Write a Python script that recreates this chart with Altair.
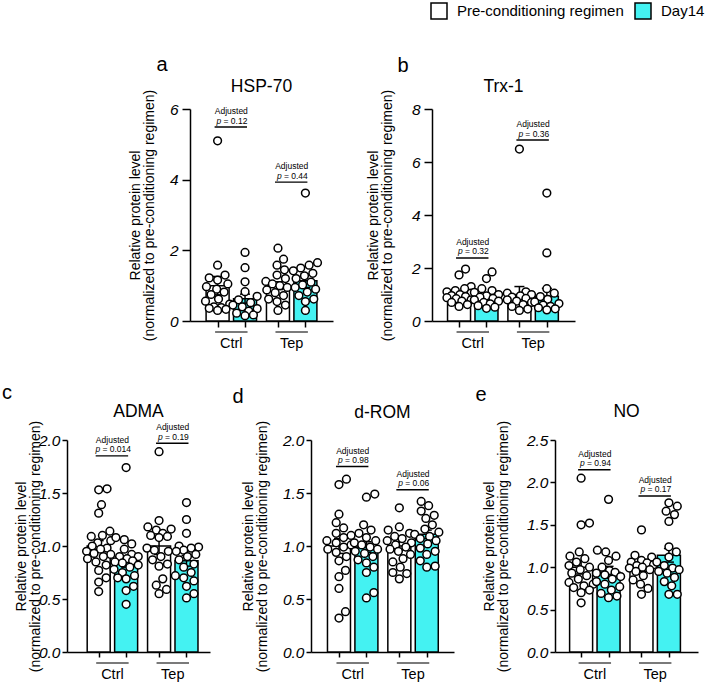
import math
import altair as alt
import pandas as pd

CONDITIONS = ["Pre-conditioning regimen", "Day14"]
GROUPS = ["Ctrl", "Tep"]
CYAN = "#44F2F2"
FONT = "Liberation Sans"

# ---------------- data ----------------
# order of the four series: Ctrl pre, Ctrl Day14, Tep pre, Tep Day14
hsp70_ctrl_pre = [5.10, 1.58, 1.30, 1.22, 1.16, 1.05, 0.97, 0.90, 0.82, 0.75, 0.62, 0.56, 0.48, 0.40, 0.38, 0.36, 0.33, 0.30]
hsp70_ctrl_d14 = [1.94, 1.51, 1.11, 0.83, 0.70, 0.60, 0.52, 0.45, 0.40, 0.35, 0.28, 0.22, 0.17, 0.15]
hsp70_tep_pre = [2.06, 1.75, 1.58, 1.45, 1.30, 1.20, 1.12, 1.05, 1.00, 0.95, 0.88, 0.80, 0.72, 0.62, 0.55, 0.45, 0.30]
hsp70_tep_d14 = [3.62, 1.65, 1.58, 1.50, 1.42, 1.35, 1.28, 1.20, 1.10, 1.02, 0.95, 0.90, 0.82, 0.72, 0.62, 0.55, 0.30]
hsp70_means = [1.00, 0.63, 1.00, 1.14]
hsp70_sems = [0.26, 0.13, 0.11, 0.19]
hsp70_p = ["0.12", "0.44"]
hsp70_bracket = [5.49, 3.93]

trx1_ctrl_pre = [1.96, 1.74, 1.30, 1.22, 1.15, 1.10, 1.05, 1.00, 0.96, 0.92, 0.88, 0.84, 0.80, 0.75, 0.70, 0.62, 0.55]
trx1_ctrl_d14 = [1.85, 1.60, 1.22, 1.15, 1.08, 1.00, 0.95, 0.90, 0.85, 0.80, 0.75, 0.70, 0.65, 0.58, 0.52, 0.48]
trx1_tep_pre = [6.49, 1.10, 1.05, 1.00, 0.95, 0.90, 0.85, 0.80, 0.75, 0.70, 0.62, 0.55, 0.45, 0.40]
trx1_tep_d14 = [4.83, 2.57, 1.22, 1.05, 0.92, 0.82, 0.72, 0.66, 0.60, 0.55, 0.50, 0.46, 0.42]
trx1_means = [1.00, 0.87, 1.00, 0.93]
trx1_sems = [0.08, 0.09, 0.30, 0.30]
trx1_p = ["0.32", "0.36"]
trx1_bracket = [2.38, 6.83]

adma_ctrl_pre = [1.54, 1.53, 1.39, 1.31, 1.14, 1.10, 1.09, 1.05, 1.03, 1.00, 0.98, 0.97, 0.95, 0.93, 0.92, 0.90, 0.88, 0.85, 0.82, 0.77, 0.70, 0.66, 0.57]
adma_ctrl_d14 = [1.74, 1.08, 1.06, 1.02, 0.97, 0.92, 0.90, 0.90, 0.88, 0.86, 0.85, 0.84, 0.82, 0.80, 0.78, 0.75, 0.72, 0.70, 0.69, 0.62, 0.58, 0.45]
adma_tep_pre = [1.89, 1.24, 1.18, 1.16, 1.15, 1.12, 1.10, 1.09, 1.08, 0.98, 0.96, 0.95, 0.90, 0.87, 0.83, 0.81, 0.69, 0.63, 0.59, 0.55]
adma_tep_d14 = [1.41, 1.25, 1.12, 1.00, 0.99, 0.98, 0.96, 0.95, 0.92, 0.90, 0.87, 0.83, 0.80, 0.75, 0.72, 0.70, 0.67, 0.62, 0.55, 0.51]
adma_means = [1.00, 0.85, 1.00, 0.86]
adma_sems = [0.05, 0.05, 0.08, 0.05]
adma_p = ["0.014", "0.19"]
adma_bracket = [1.85, 1.97]

drom_ctrl_pre = [1.63, 1.58, 1.30, 1.22, 1.17, 1.12, 1.10, 1.08, 1.05, 1.03, 1.01, 0.99, 0.97, 0.94, 0.90, 0.86, 0.77, 0.71, 0.60, 0.38, 0.32]
drom_ctrl_d14 = [1.49, 1.46, 1.20, 1.15, 1.12, 1.08, 1.05, 1.03, 1.01, 0.99, 0.97, 0.95, 0.93, 0.90, 0.87, 0.84, 0.80, 0.75, 0.56, 0.51]
drom_tep_pre = [1.36, 1.18, 1.15, 1.12, 1.09, 1.07, 1.05, 1.03, 1.01, 0.99, 0.97, 0.95, 0.92, 0.88, 0.85, 0.80, 0.75, 0.74, 0.69]
drom_tep_d14 = [1.42, 1.38, 1.33, 1.29, 1.26, 1.20, 1.16, 1.13, 1.11, 1.09, 1.07, 1.05, 1.02, 0.98, 0.95, 0.92, 0.86, 0.81, 0.80]
drom_means = [1.00, 0.99, 1.00, 1.11]
drom_sems = [0.07, 0.05, 0.04, 0.04]
drom_p = ["0.98", "0.06"]
drom_bracket = [1.75, 1.53]

no_ctrl_pre = [2.05, 1.52, 1.50, 1.18, 1.13, 1.10, 1.06, 1.02, 1.00, 0.97, 0.93, 0.90, 0.86, 0.82, 0.80, 0.78, 0.76, 0.73, 0.70, 0.58]
no_ctrl_d14 = [1.80, 1.20, 1.18, 1.13, 1.08, 1.00, 0.96, 0.94, 0.93, 0.91, 0.89, 0.86, 0.83, 0.80, 0.77, 0.73, 0.69, 0.66, 0.64]
no_tep_pre = [1.44, 1.14, 1.12, 1.08, 1.06, 1.05, 1.03, 1.02, 1.00, 0.99, 0.97, 0.95, 0.90, 0.85, 0.80, 0.75, 0.68]
no_tep_d14 = [1.76, 1.72, 1.66, 1.62, 1.54, 1.24, 1.18, 1.12, 1.06, 1.02, 0.99, 0.97, 0.95, 0.93, 0.88, 0.83, 0.78, 0.68, 0.68]
no_means = [1.00, 0.94, 1.00, 1.14]
no_sems = [0.08, 0.07, 0.05, 0.08]
no_p = ["0.94", "0.17"]
no_bracket = [2.15, 1.84]

Y_TITLE = ["Relative protein level", "(normalized to pre-conditioning regimen)"]

# ---------------- layout helpers ----------------
W, H = 143, 212
UNIT = 29.5                      # px between the two bars of a pair
SLOTS = [0.0, 1.0, 2.2, 3.2]      # slot index of each bar (pair gap slightly wider)

CHAR_W = {"0": 556, "1": 556, "2": 556, "3": 556, "4": 556, "5": 556, "6": 556, "7": 556,
          "8": 556, "9": 556, ".": 278, " ": 278, "=": 584, "p": 556}


def text_width(s, size):
    return sum(CHAR_W.get(c, 556) for c in s) * size / 1000.0


def swarm(vals, px_per_unit, diam=8.8, step=1.0, maxoff=13):
    cands = [0.0]
    k = 1
    while k * step <= maxoff:
        cands += [k * step, -k * step]
        k += 1
    placed = []
    offs = [0.0] * len(vals)
    for i in sorted(range(len(vals)), key=lambda j: vals[j]):
        y = vals[i] * px_per_unit
        chosen, best_d, best_c = None, -1.0, 0.0
        for c in cands:
            dmin = min([math.hypot(c - px, y - py) for px, py in placed], default=1e9)
            if dmin >= diam:
                chosen = c
                break
            if dmin > best_d:
                best_d, best_c = dmin, c
        if chosen is None:
            chosen = best_c
        placed.append((chosen, y))
        offs[i] = chosen
    return offs


def make_panel(name, letter, series, means, sems, pvals, brackets, cfg, show_legend):
    L = cfg["left"]
    xdom = [-L / UNIT, (W - L) / UNIT]
    ymax = cfg["ymax"]
    ypx = H / ymax
    xs = alt.Scale(domain=xdom, nice=False, zero=False)
    ys = alt.Scale(domain=[0, ymax], nice=False, zero=True)

    bars_df = pd.DataFrame({
        "pos": SLOTS,
        "mean": means,
        "lo": [m - s for m, s in zip(means, sems)],
        "hi": [m + s for m, s in zip(means, sems)],
        "cond": [CONDITIONS[i % 2] for i in range(4)],
    })

    rows = []
    for j, vals in enumerate(series):
        offs = swarm(vals, ypx)
        for v, o in zip(vals, offs):
            rows.append({"xj": SLOTS[j] + o / UNIT, "val": v})
    pts_df = pd.DataFrame(rows)

    fs = 8.5
    ann_rows = []
    for g in range(2):
        x1, x2 = SLOTS[2 * g], SLOTS[2 * g + 1]
        xc = (x1 + x2) / 2
        rest = "= " + pvals[g]
        wp = text_width("p", fs)
        wsp = text_width(" ", fs)
        total = wp + wsp + text_width(rest, fs)
        ann_rows.append({
            "x1": x1, "x2": x2, "xc": xc, "y": brackets[g],
            "xp": xc + (-total / 2 + wp) / UNIT,
            "xr": xc + (-total / 2 + wp + wsp) / UNIT,
            "rest": rest,
        })
    ann_df = pd.DataFrame(ann_rows)

    grp_df = pd.DataFrame({
        "x1": [SLOTS[0], SLOTS[2]], "x2": [SLOTS[1], SLOTS[3]],
        "xc": [(SLOTS[0] + SLOTS[1]) / 2, (SLOTS[2] + SLOTS[3]) / 2],
        "label": GROUPS,
    })
    one = pd.DataFrame({"k": [0]})

    xaxis = alt.Axis(values=SLOTS, labels=False, ticks=True, tickSize=cfg["xtick"], domain=True,
                     grid=False, title=None, domainWidth=1.5, tickWidth=1.5)
    yaxis = alt.Axis(values=cfg["ticks"], format=cfg["fmt"], title=Y_TITLE, titlePadding=cfg["tp"],
                     labelFontStyle="italic", labelFontSize=15.5, titleFontSize=14, titleFontWeight="normal",
                     titleLineHeight=14, tickSize=cfg["ytick"], labelPadding=cfg["lpad"], grid=False,
                     domainWidth=1.5, tickWidth=1.5)

    def X(field):
        return alt.X(field, scale=xs, axis=xaxis)

    def Y(field):
        return alt.Y(field, scale=ys, axis=yaxis)

    if show_legend:
        legend = alt.Legend(title=None, orient="none", legendX=cfg["legx"], legendY=cfg["legy"],
                            direction="horizontal", symbolType="square", symbolSize=256,
                            symbolStrokeColor="black", symbolStrokeWidth=1.5, labelFontSize=15,
                            labelFont=FONT, labelColor="black", columnPadding=8, labelOffset=9,
                            labelLimit=400)
    else:
        legend = None

    bars = alt.Chart(bars_df).mark_bar(width=23, stroke="black", strokeWidth=1.5).encode(
        x=X("pos:Q"), y=Y("mean:Q"),
        fill=alt.Fill("cond:N", scale=alt.Scale(domain=CONDITIONS, range=["#ffffff", CYAN]), legend=legend),
    )
    err = alt.Chart(bars_df).mark_rule(color="black", strokeWidth=1.5).encode(
        x=X("pos:Q"), y=Y("lo:Q"), y2="hi:Q",
    )
    cap_hi = alt.Chart(bars_df).mark_rule(color="black", strokeWidth=1.5, xOffset=-5, x2Offset=5).encode(
        x=X("pos:Q"), x2="pos:Q", y=Y("hi:Q"),
    )
    cap_lo = alt.Chart(bars_df).mark_rule(color="black", strokeWidth=1.5, xOffset=-5, x2Offset=5).encode(
        x=X("pos:Q"), x2="pos:Q", y=Y("lo:Q"),
    )
    pts = alt.Chart(pts_df).mark_point(shape="circle", filled=True, fill="white", stroke="black",
                                       strokeWidth=1.5, size=60, opacity=1).encode(
        x=X("xj:Q"), y=Y("val:Q"),
    )
    ann_rule = alt.Chart(ann_df).mark_rule(color="black", strokeWidth=1.4, xOffset=-3, x2Offset=2).encode(
        x=X("x1:Q"), x2="x2:Q", y=Y("y:Q"),
    )
    ann_adj = alt.Chart(ann_df).mark_text(fontSize=fs, font=FONT, dy=-13, baseline="alphabetic",
                                          align="center", color="black").encode(
        x=X("xc:Q"), y=Y("y:Q"), text=alt.value("Adjusted"),
    )
    ann_p = alt.Chart(ann_df).mark_text(fontSize=fs, font=FONT, fontStyle="italic", dy=-3.5,
                                        baseline="alphabetic", align="right", color="black").encode(
        x=X("xp:Q"), y=Y("y:Q"), text=alt.value("p"),
    )
    ann_rest = alt.Chart(ann_df).mark_text(fontSize=fs, font=FONT, dy=-3.5,
                                           baseline="alphabetic", align="left", color="black").encode(
        x=X("xr:Q"), y=Y("y:Q"), text="rest:N",
    )
    grp_rule = alt.Chart(grp_df).mark_rule(color="#7a7a7a", strokeWidth=2, xOffset=-2.5, x2Offset=2.5).encode(
        x=X("x1:Q"), x2="x2:Q", y=alt.value(H + 11),
    )
    grp_text = alt.Chart(grp_df).mark_text(fontSize=14.5, font=FONT, baseline="alphabetic",
                                           align="center", color="black").encode(
        x=X("xc:Q"), y=alt.value(H + 26.5), text="label:N",
    )
    title_text = alt.Chart(one).mark_text(fontSize=17.5, font=FONT, baseline="alphabetic",
                                          align="center", color="black").encode(
        x=alt.value(W / 2), y=alt.value(cfg["title_y"]), text=alt.value(name),
    )
    letter_text = alt.Chart(one).mark_text(fontSize=20, font=FONT, baseline="alphabetic",
                                           align="center", color="black").encode(
        x=alt.value(cfg["letter_x"]), y=alt.value(cfg["letter_y"]), text=alt.value(letter),
    )
    return alt.layer(bars, err, cap_hi, cap_lo, pts, ann_rule, ann_adj, ann_p, ann_rest,
                     grp_rule, grp_text, title_text, letter_text).properties(width=W, height=H)


top_cfg = dict(xtick=6, ytick=8, lpad=4, fmt="d")
bot_cfg = dict(xtick=5, ytick=5, lpad=2, fmt=".1f")

cfg_a = dict(top_cfg, ymax=6, ticks=[0, 2, 4, 6], left=24.3, tp=13, letter_x=-28, letter_y=-38,
             title_y=-17, legx=363, legy=-107)
cfg_b = dict(top_cfg, ymax=8, ticks=[0, 2, 4, 6, 8], left=23.7, tp=17, letter_x=-29, letter_y=-37,
             title_y=-17)
cfg_c = dict(bot_cfg, ymax=2.0, ticks=[0, 0.5, 1.0, 1.5, 2.0], left=28.7, tp=-4, letter_x=-60,
             letter_y=-41, title_y=-23)
cfg_d = dict(bot_cfg, ymax=2.0, ticks=[0, 0.5, 1.0, 1.5, 2.0], left=24.7, tp=13, letter_x=-73,
             letter_y=-37, title_y=-22)
cfg_e = dict(bot_cfg, ymax=2.5, ticks=[0, 0.5, 1.0, 1.5, 2.0, 2.5], left=22.7, tp=16, letter_x=-74,
             letter_y=-39, title_y=-23)

pa = make_panel("HSP-70", "a", [hsp70_ctrl_pre, hsp70_ctrl_d14, hsp70_tep_pre, hsp70_tep_d14],
                hsp70_means, hsp70_sems, hsp70_p, hsp70_bracket, cfg_a, True)
pb = make_panel("Trx-1", "b", [trx1_ctrl_pre, trx1_ctrl_d14, trx1_tep_pre, trx1_tep_d14],
                trx1_means, trx1_sems, trx1_p, trx1_bracket, cfg_b, False)
pc = make_panel("ADMA", "c", [adma_ctrl_pre, adma_ctrl_d14, adma_tep_pre, adma_tep_d14],
                adma_means, adma_sems, adma_p, adma_bracket, cfg_c, False)
pdm = make_panel("d-ROM", "d", [drom_ctrl_pre, drom_ctrl_d14, drom_tep_pre, drom_tep_d14],
                 drom_means, drom_sems, drom_p, drom_bracket, cfg_d, False)
pe = make_panel("NO", "e", [no_ctrl_pre, no_ctrl_d14, no_tep_pre, no_tep_d14],
                no_means, no_sems, no_p, no_bracket, cfg_e, False)

spacer = alt.Chart(pd.DataFrame({"v": [0]})).mark_point(opacity=0).encode(
    x=alt.X("v:Q", axis=None), y=alt.Y("v:Q", axis=None)
).properties(width=24, height=10)

top = alt.hconcat(spacer, pa, pb, spacing=99, bounds="flush")
bottom = alt.hconcat(pc, pdm, pe, spacing=101, bounds="flush")

chart = alt.vconcat(top, bottom, spacing=33).properties(
    padding={"left": 2, "top": 2, "right": 2, "bottom": 2},
    background="white",
).configure(font=FONT).configure_view(stroke=None).configure_axis(
    domainColor="black", tickColor="black", labelColor="black", titleColor="black",
    labelFont=FONT, titleFont=FONT,
)

chart.save("out.html", embed_options={"renderer": "svg", "actions": False})
